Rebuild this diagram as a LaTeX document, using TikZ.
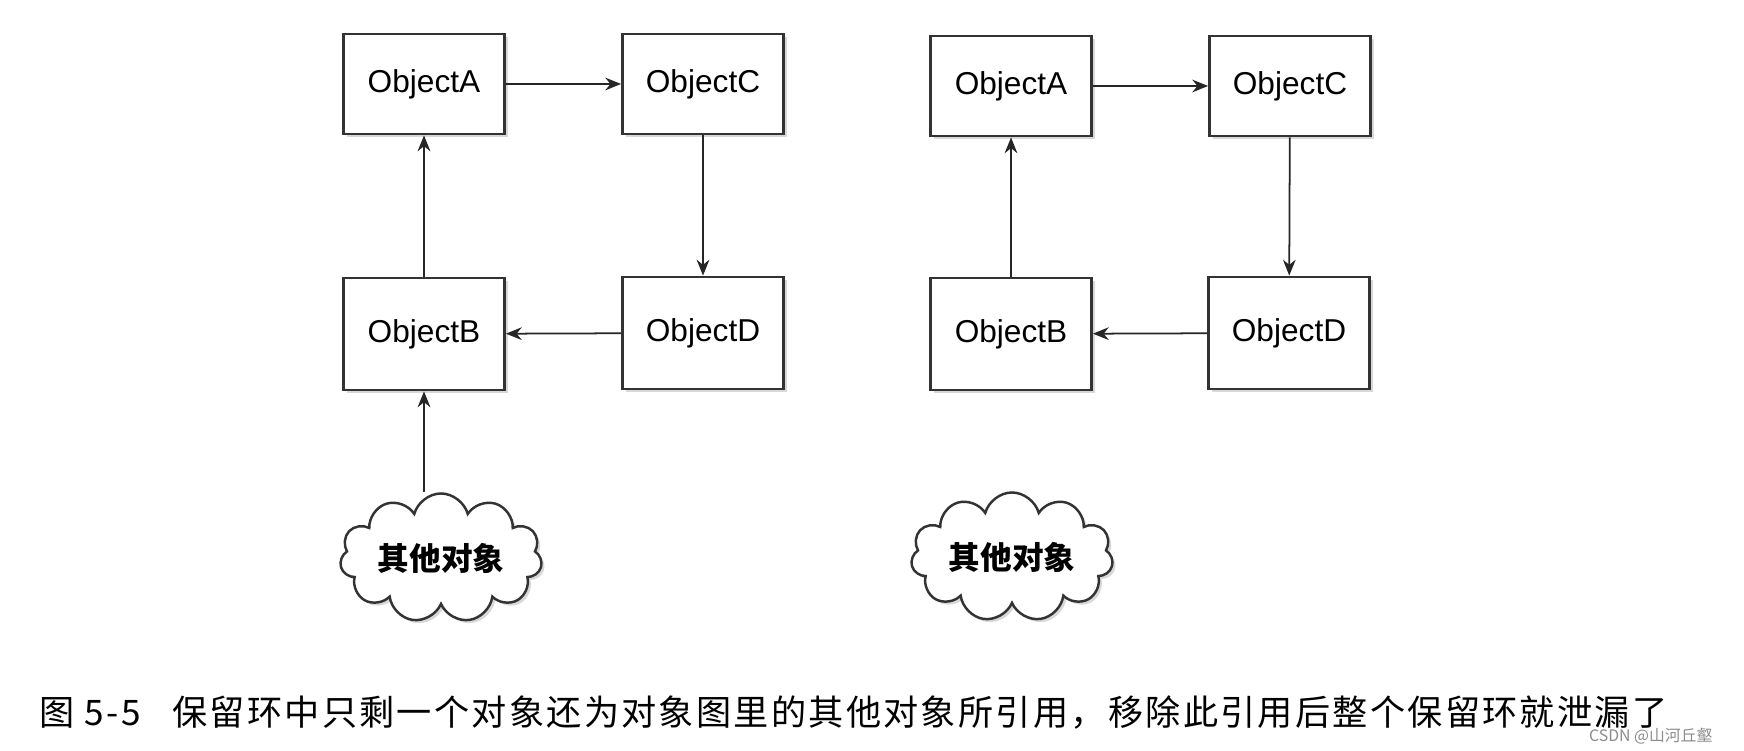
\documentclass[tikz,border=0pt]{standalone}
\usepackage{fontspec}
\setmainfont{Liberation Sans}
\newfontfamily\cjk{Noto Sans CJK SC}
\newfontfamily\capfont[LetterSpace=6.5]{Noto Sans CJK SC}
\usetikzlibrary{shapes.symbols, shadows, arrows.meta}
\tikzset{>={Stealth[length=4.5pt,width=3.6pt]}}
\tikzset{
  objbox/.style={draw=black!80, line width=0.8pt, fill=white,
    minimum width=1.61cm, minimum height=1cm,
    font=\fontsize{9}{11}\selectfont,
    drop shadow={shadow xshift=0.03cm, shadow yshift=-0.03cm, opacity=0.3}},
  tallbox/.style={objbox, minimum height=1.12cm},
  others/.style={cloud, cloud puffs=11, aspect=1.9, draw=black!80, fill=white,
    line width=0.7pt, inner sep=0pt, minimum width=2.02cm, minimum height=1.16cm,
    font=\cjk\bfseries\fontsize{9}{11}\selectfont,
    drop shadow={shadow xshift=0.03cm, shadow yshift=-0.03cm, opacity=0.3}},
  ref/.style={->, line width=0.5pt, draw=black!85}
}

\begin{document}
\begin{tikzpicture}
\useasboundingbox[fill=white] (0,0) rectangle (17.44,7.51);

% left: cycle still referenced
\node[objbox]  (objAL) at (4.24,6.67) {ObjectA};
\node[objbox]  (objCL) at (7.03,6.67) {ObjectC};
\node[tallbox] (objBL) at (4.24,4.17) {ObjectB};
\node[tallbox] (objDL) at (7.03,4.18) {ObjectD};
\node[others]  (othL)  at (4.41,1.93) {其他对象};
\draw[ref] (objAL) -- (objCL);
\draw[ref] (objCL) -- (objDL);
\draw[ref] (objDL) -- (objBL);
\draw[ref] (objBL) -- (objAL);
\draw[ref] (objBL |- othL.north) -- (objBL);

% right: reference removed
\node[objbox]  (objAR) at (10.11,6.65) {ObjectA};
\node[objbox]  (objCR) at (12.90,6.65) {ObjectC};
\node[tallbox] (objBR) at (10.11,4.17) {ObjectB};
\node[tallbox] (objDR) at (12.89,4.18) {ObjectD};
\node[others]  (othR)  at (10.12,1.94) {其他对象};
\draw[ref] (objAR) -- (objCR);
\draw[ref] (objCR) -- (objDR);
\draw[ref] (objDR) -- (objBR);
\draw[ref] (objBR) -- (objAR);

% caption
\node[anchor=west, inner sep=0pt, font=\capfont\fontsize{10}{12}\selectfont] (cap) at (0.39,0.38)
  {图 5-5\hspace{0.9em}保留环中只剩一个对象还为对象图里的其他对象所引用，移除此引用后整个保留环就泄漏了};
\node[anchor=east, inner sep=0pt, text=black!45, font=\cjk\fontsize{4.5}{5}\selectfont] (mark) at (17.13,0.15)
  {CSDN @山河丘壑};
\end{tikzpicture}
\end{document}
